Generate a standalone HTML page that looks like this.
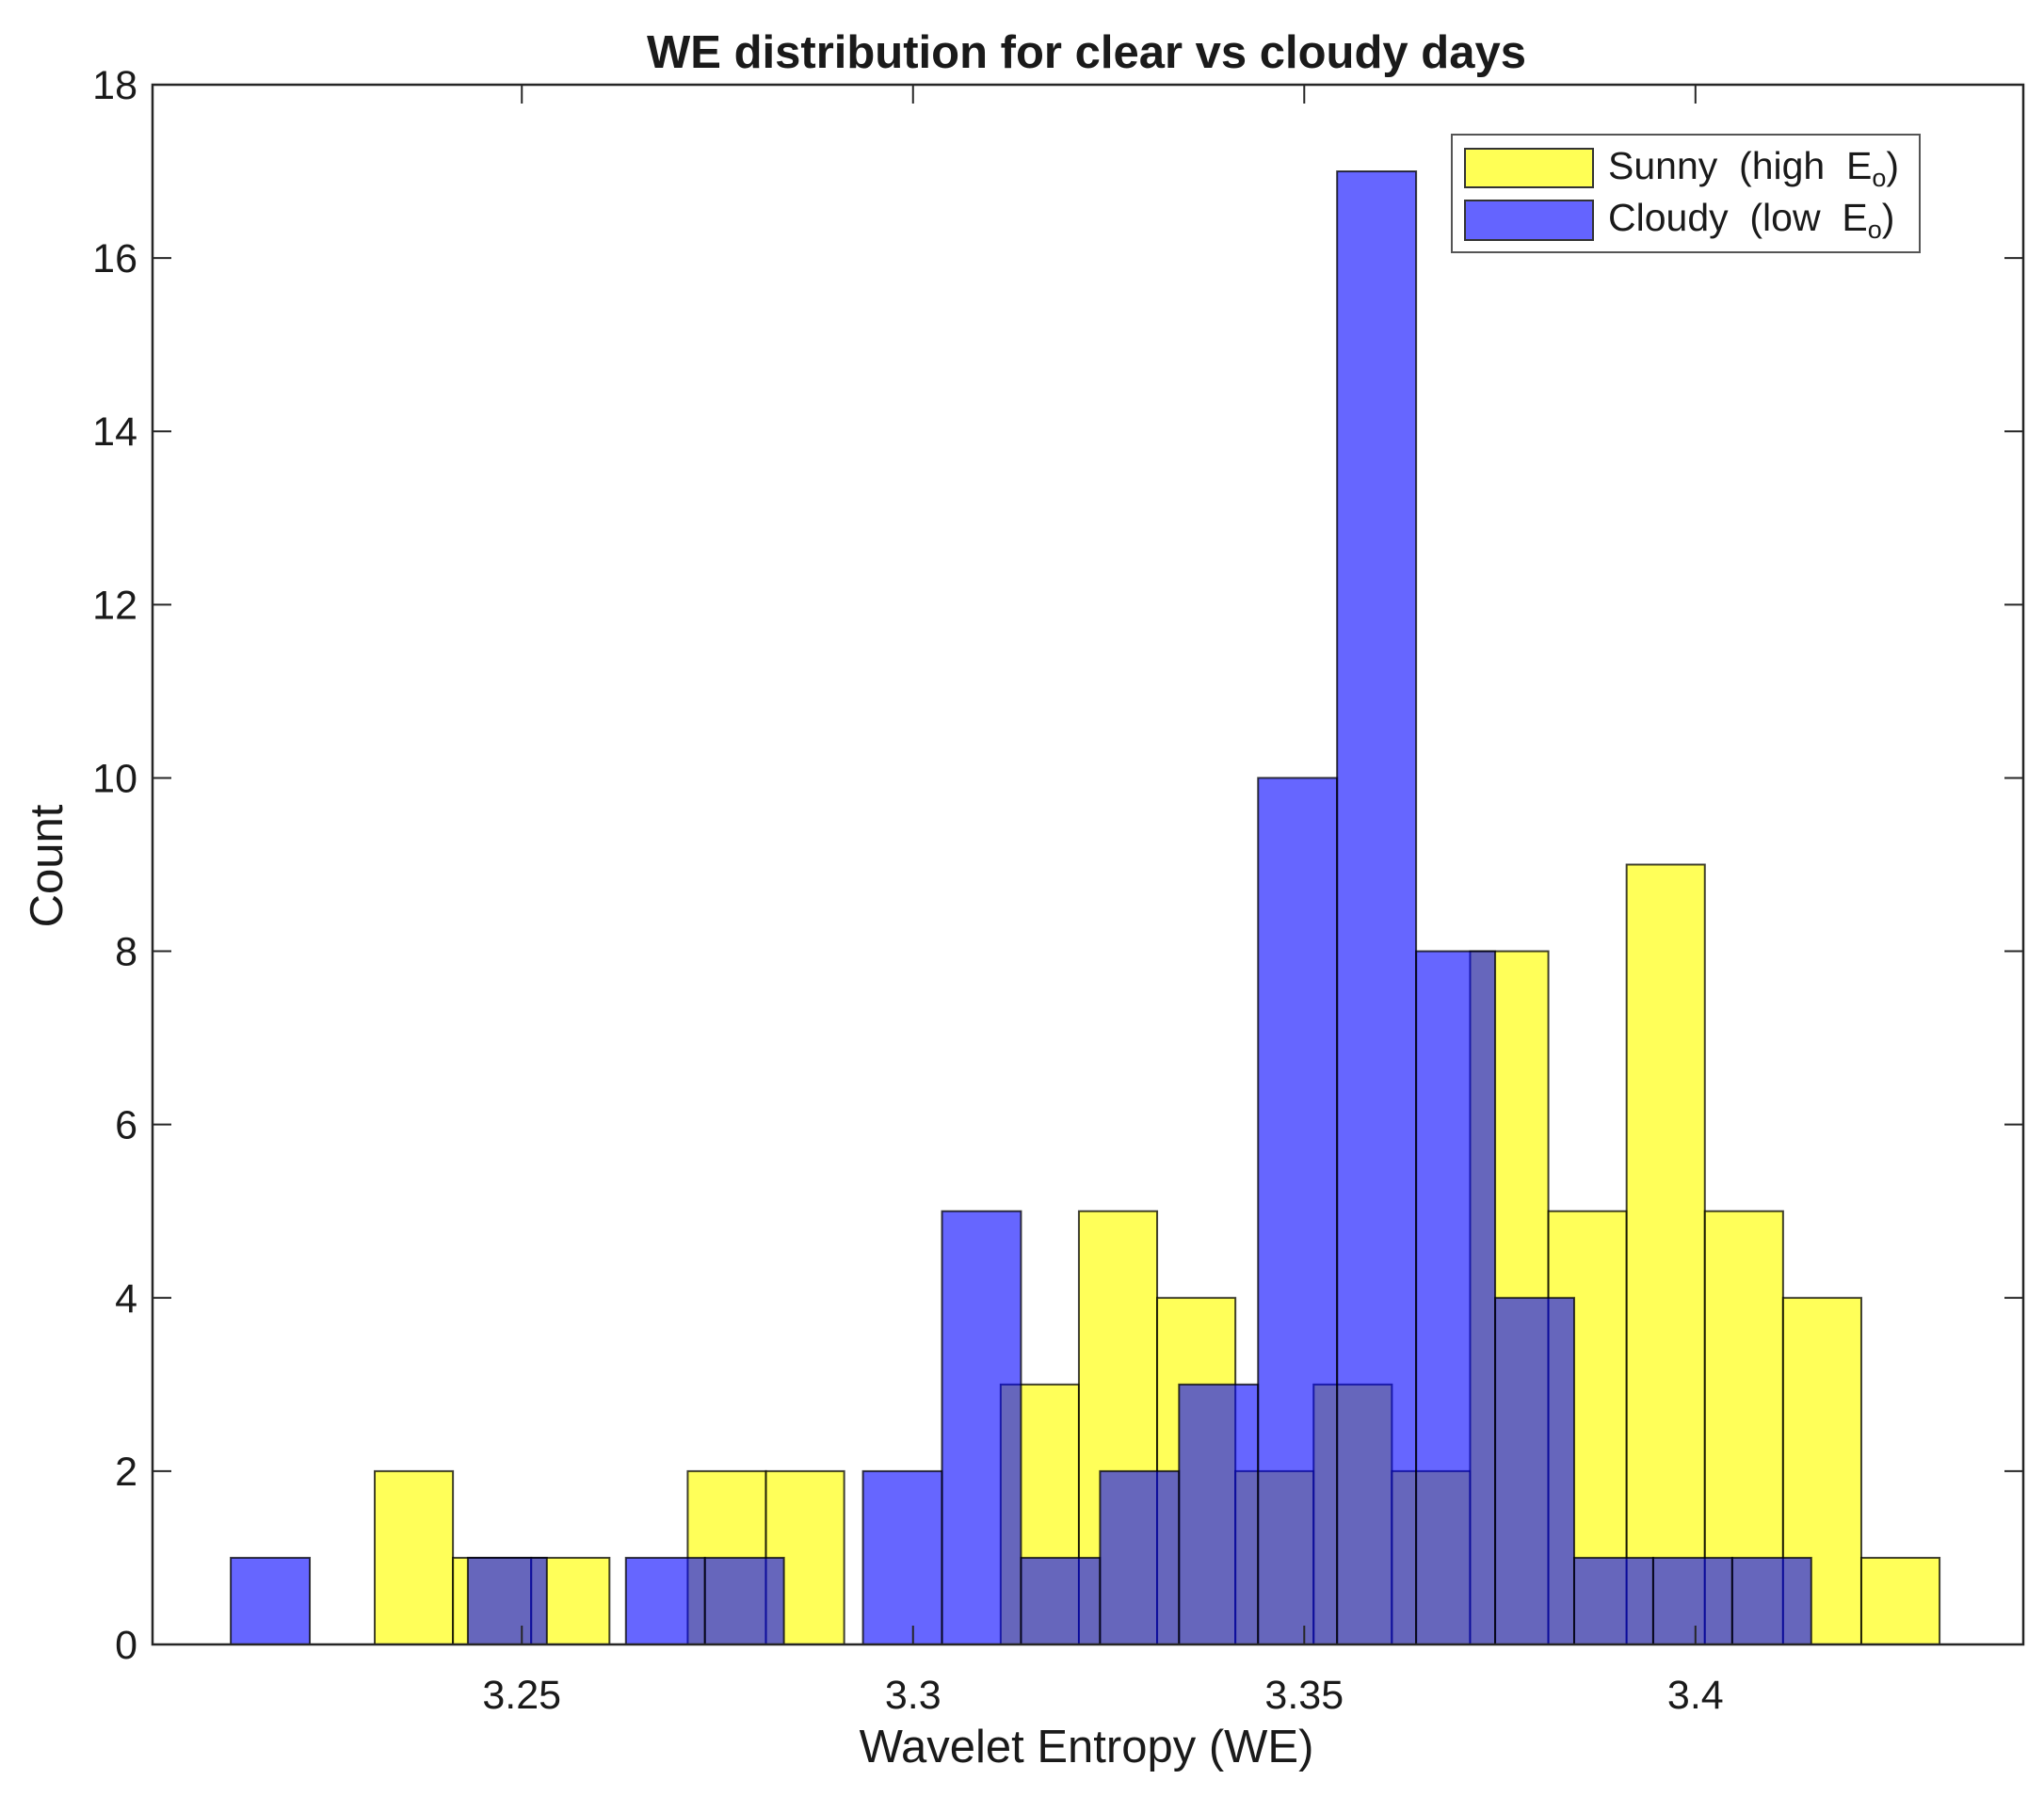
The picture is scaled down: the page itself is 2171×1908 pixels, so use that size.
<!DOCTYPE html>
<html><head><meta charset="utf-8"><style>
html,body{margin:0;padding:0;background:#fff;}
svg{display:block;}
text{font-family:"Liberation Sans",Arial,sans-serif;fill:#1a1a1a;}
</style></head><body>
<svg id="chart" width="2171" height="1908" viewBox="0 0 2171 1908" xmlns="http://www.w3.org/2000/svg">
<rect width="2171" height="1908" fill="#fff"/>
<text x="1154" y="72" font-size="49" font-weight="bold" text-anchor="middle">WE distribution for clear vs cloudy days</text>
<g id="bars"></g>
<g id="axes"></g>
<text x="1154" y="1872" font-size="49" text-anchor="middle">Wavelet Entropy (WE)</text>
<text transform="translate(66,920) rotate(-90)" font-size="49" text-anchor="middle">Count</text>
<g>
<rect x="1542" y="143" width="497" height="125" fill="#fff" stroke="#555" stroke-width="2"/>
<g>
<rect x="1556" y="158" width="136" height="41" fill="#ffff55" stroke="#333" stroke-width="2"/>
<text x="1708" y="190" font-size="41">Sunny&#160;&#160;(high&#160;&#160;E<tspan font-size="27" dy="8">o</tspan><tspan dy="-8">)</tspan></text>
</g>
<g>
<rect x="1556" y="213" width="136" height="42" fill="#6464ff" stroke="#333" stroke-width="2"/>
<text x="1708" y="245" font-size="41">Cloudy&#160;&#160;(low&#160;&#160;E<tspan font-size="27" dy="8">o</tspan><tspan dy="-8">)</tspan></text>
</g>
</g>
</svg>
<script>
const sunnyStart = 3.2312;
const sunnyWidth = 0.01;
const sunnyCounts = [2,1,1,0,2,2,0,0,3,5,4,2,3,2,8,5,9,5,4,1];
const cloudyStart = 3.2128;
const cloudyWidth = 0.0101;
const cloudyCounts = [1,0,0,1,0,1,1,0,2,5,1,2,3,10,17,8,4,1,1,1];
const xTicks = [3.25,3.3,3.35,3.4];
const xTickLabels = ["3.25","3.3","3.35","3.4"];
const yTicks = [0,2,4,6,8,10,12,14,16,18];

const L=162, R=2149, T=90, B=1747;
const xMin=3.2028, xMax=3.4419, yMax=18;
const sx = v => L + (v - xMin) / (xMax - xMin) * (R - L);
const sy = v => B - v / yMax * (B - T);
const NS="http://www.w3.org/2000/svg";
const bars=document.getElementById('bars');
const axes=document.getElementById('axes');
function mk(tag, attrs, parent){const e=document.createElementNS(NS,tag);for(const k in attrs)e.setAttribute(k,attrs[k]);parent.appendChild(e);return e;}

sunnyCounts.forEach((c,i)=>{
  if(!c) return;
  const x0=sx(sunnyStart+i*sunnyWidth), x1=sx(sunnyStart+(i+1)*sunnyWidth);
  const r=mk('rect',{x:x0,y:sy(c),width:x1-x0,height:sy(0)-sy(c),fill:'#ffff00','fill-opacity':0.65,stroke:'#000','stroke-opacity':0.75,'stroke-width':2},bars);
  
  
});
cloudyCounts.forEach((c,i)=>{
  if(!c) return;
  const x0=sx(cloudyStart+i*cloudyWidth), x1=sx(cloudyStart+(i+1)*cloudyWidth);
  const r=mk('rect',{x:x0,y:sy(c),width:x1-x0,height:sy(0)-sy(c),fill:'#0000ff','fill-opacity':0.6,stroke:'#000','stroke-opacity':0.75,'stroke-width':2},bars);
  
  
});

const frame=mk('rect',{x:L,y:T,width:R-L,height:B-T,fill:'none',stroke:'#262626','stroke-width':2.5},axes);


yTicks.forEach(v=>{
  const y=sy(v);
  mk('line',{x1:L,x2:L+20,y1:y,y2:y,stroke:'#262626','stroke-width':2},axes);
  mk('line',{x1:R,x2:R-20,y1:y,y2:y,stroke:'#262626','stroke-width':2},axes);
  const t=mk('text',{x:L-16,y:y+15,'font-size':43,'text-anchor':'end'},axes);
  t.textContent=String(v);
  
  
});
xTicks.forEach((v,i)=>{
  const x=sx(v);
  mk('line',{x1:x,x2:x,y1:B,y2:B-20,stroke:'#262626','stroke-width':2},axes);
  mk('line',{x1:x,x2:x,y1:T,y2:T+20,stroke:'#262626','stroke-width':2},axes);
  const t=mk('text',{x:x,y:B+68,'font-size':43,'text-anchor':'middle'},axes);
  t.textContent=xTickLabels[i];
  
  
});
</script>
</body></html>
